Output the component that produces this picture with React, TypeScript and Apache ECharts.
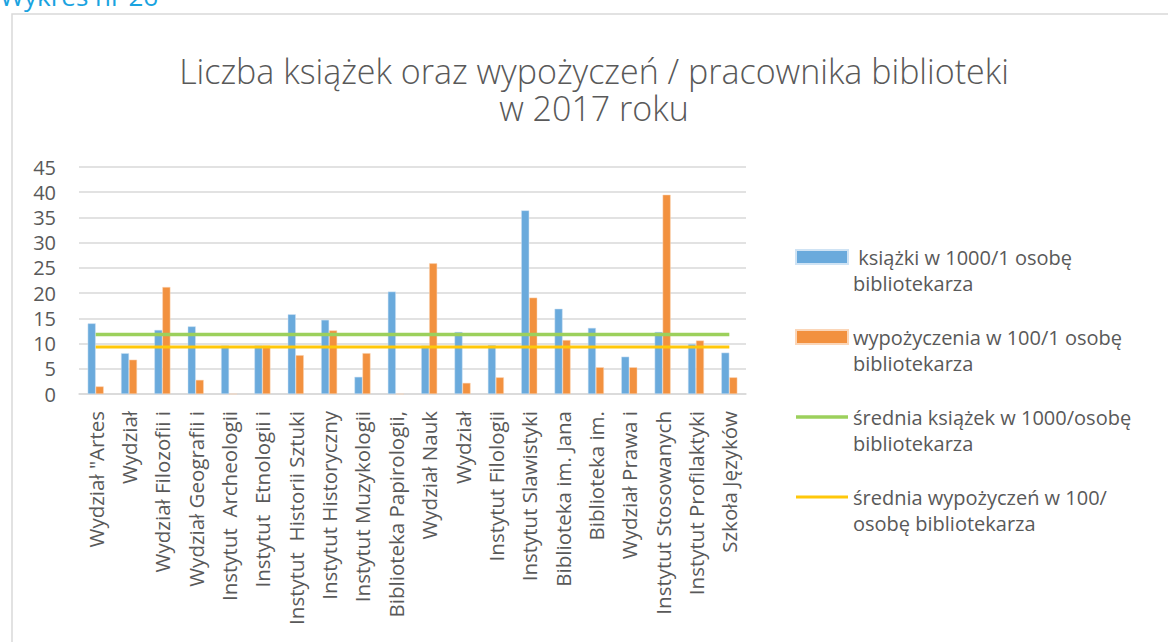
import React, { useEffect, useRef } from "react";
import * as echarts from "echarts";

const categories: string[] = [
  'Wydział "Artes',
  "Wydział",
  "Wydział Filozofii i",
  "Wydział Geografii i",
  "Instytut  Archeologii",
  "Instytut  Etnologii i",
  "Instytut  Historii Sztuki",
  "Instytut Historyczny",
  "Instytut Muzykologii",
  "Biblioteka Papirologii,",
  "Wydział Nauk",
  "Wydział",
  "Instytut Filologii",
  "Instytut Slawistyki",
  "Biblioteka im. Jana",
  "Biblioteka im.",
  "Wydział Prawa i",
  "Instytut Stosowanych",
  "Instytut Profilaktyki",
  "Szkoła Języków",
];

const books: number[] = [14.0, 8.1, 12.7, 13.4, 9.6, 9.6, 15.8, 14.7, 3.4, 20.3, 9.6, 12.3, 9.7, 36.4, 16.9, 13.1, 7.4, 12.3, 9.9, 8.2];
const loans: number[] = [1.5, 6.8, 21.2, 2.8, 0, 9.6, 7.7, 12.6, 8.1, 0, 25.9, 2.2, 3.3, 19.1, 10.7, 5.3, 5.3, 39.5, 10.6, 3.3];
const avgBooks = 11.8;
const avgLoans = 9.3;
const avgBooksLine: number[] = categories.map(() => avgBooks);
const avgLoansLine: number[] = categories.map(() => avgLoans);

const seriesNames: string[] = [
  " książki w 1000/1 osobę\nbibliotekarza",
  "wypożyczenia w 100/1 osobę\nbibliotekarza",
  "średnia książek w 1000/osobę\nbibliotekarza",
  "średnia wypożyczeń w 100/\nosobę bibliotekarza",
];

const titleLines: string[] = [
  "Liczba książek oraz wypożyczeń / pracownika biblioteki",
  "w 2017 roku",
];
const yTicks = { min: 0, max: 45, interval: 5 };

const FONT = "'Open Sans', 'Noto Sans', sans-serif";
const GRAY = "#595959";
const BLUE = "#6AAADC";
const ORANGE = "#F2913F";
const GREEN = "#9CD05C";
const YELLOW = "#FFC80A";

export default function App() {
  const ref = useRef<HTMLDivElement>(null);
  useEffect(() => {
    if (!ref.current) return;
    const chart = echarts.init(ref.current, null, { renderer: "svg" });
    const titleStyle = {
      fontFamily: FONT,
      fontWeight: 300,
      fontSize: 34,
      color: GRAY,
      lineHeight: 34,
    };
    chart.setOption({
      animation: false,
      backgroundColor: "#ffffff",
      textStyle: { fontFamily: FONT },
      title: [
        { text: titleLines[0], left: 594, top: 54, padding: 0, textAlign: "center", textStyle: titleStyle },
        { text: titleLines[1], left: 594, top: 91, padding: 0, textAlign: "center", textStyle: titleStyle },
      ],
      graphic: [
        {
          type: "rect",
          shape: { x: 12, y: 14, width: 1200, height: 700 },
          style: { fill: "none", stroke: "#d9d9d9", lineWidth: 1.5 },
          silent: true,
          z: -1,
        },
        {
          type: "text",
          x: 0,
          y: -17,
          style: { text: "Wykres nr 26", fill: "#1aa3e0", font: "26px 'Open Sans', sans-serif" },
        },
      ],
      legend: {
        orient: "vertical",
        left: 795,
        top: 218,
        padding: 0,
        itemWidth: 52,
        itemHeight: 14,
        itemGap: 2,
        formatter: (name: string) => "\n" + name,
        data: [
          { name: seriesNames[0], icon: "rect" },
          { name: seriesNames[1], icon: "rect" },
          { name: seriesNames[2], icon: "path://M0,0H52V3.5H0Z" },
          { name: seriesNames[3], icon: "path://M0,0H52V3H0Z" },
        ],
        textStyle: {
          fontFamily: FONT,
          fontSize: 20,
          color: GRAY,
          lineHeight: 26,
        },
      },
      grid: { left: 79, right: 422, top: 167, bottom: 248, containLabel: false },
      xAxis: {
        type: "category",
        data: categories,
        axisTick: { show: false },
        axisLine: { lineStyle: { color: "#d9d9d9", width: 1.5 } },
        axisLabel: {
          rotate: 90,
          interval: 0,
          margin: 17,
          fontSize: 20.5,
          color: GRAY,
          fontFamily: FONT,
        },
      },
      yAxis: {
        type: "value",
        min: yTicks.min,
        max: yTicks.max,
        interval: yTicks.interval,
        axisLine: { show: false },
        axisTick: { show: false },
        splitLine: { lineStyle: { color: "#d9d9d9", width: 1.5 } },
        axisLabel: { margin: 23, fontSize: 20, color: GRAY, fontFamily: FONT },
      },
      series: [
        {
          name: seriesNames[0],
          type: "bar",
          data: books,
          barWidth: 8,
          barGap: "0%",
          itemStyle: { color: BLUE, borderColor: "#cfe3f4", borderWidth: 0.5 },
        },
        {
          name: seriesNames[1],
          type: "bar",
          data: loans,
          barWidth: 8,
          barGap: "0%",
          itemStyle: { color: ORANGE, borderColor: "#fbd6b8", borderWidth: 0.5 },
        },
        {
          name: seriesNames[2],
          type: "line",
          data: avgBooksLine,
          symbol: "none",
          lineStyle: { color: GREEN, width: 3.5 },
          itemStyle: { color: GREEN },
          z: 3,
        },
        {
          name: seriesNames[3],
          type: "line",
          data: avgLoansLine,
          symbol: "none",
          lineStyle: { color: YELLOW, width: 3 },
          itemStyle: { color: YELLOW },
          z: 3,
        },
      ],
    });
    return () => chart.dispose();
  }, []);
  return (
    <div
      ref={ref}
      style={{ position: "fixed", left: 0, top: 0, width: 1168, height: 642 }}
    />
  );
}
